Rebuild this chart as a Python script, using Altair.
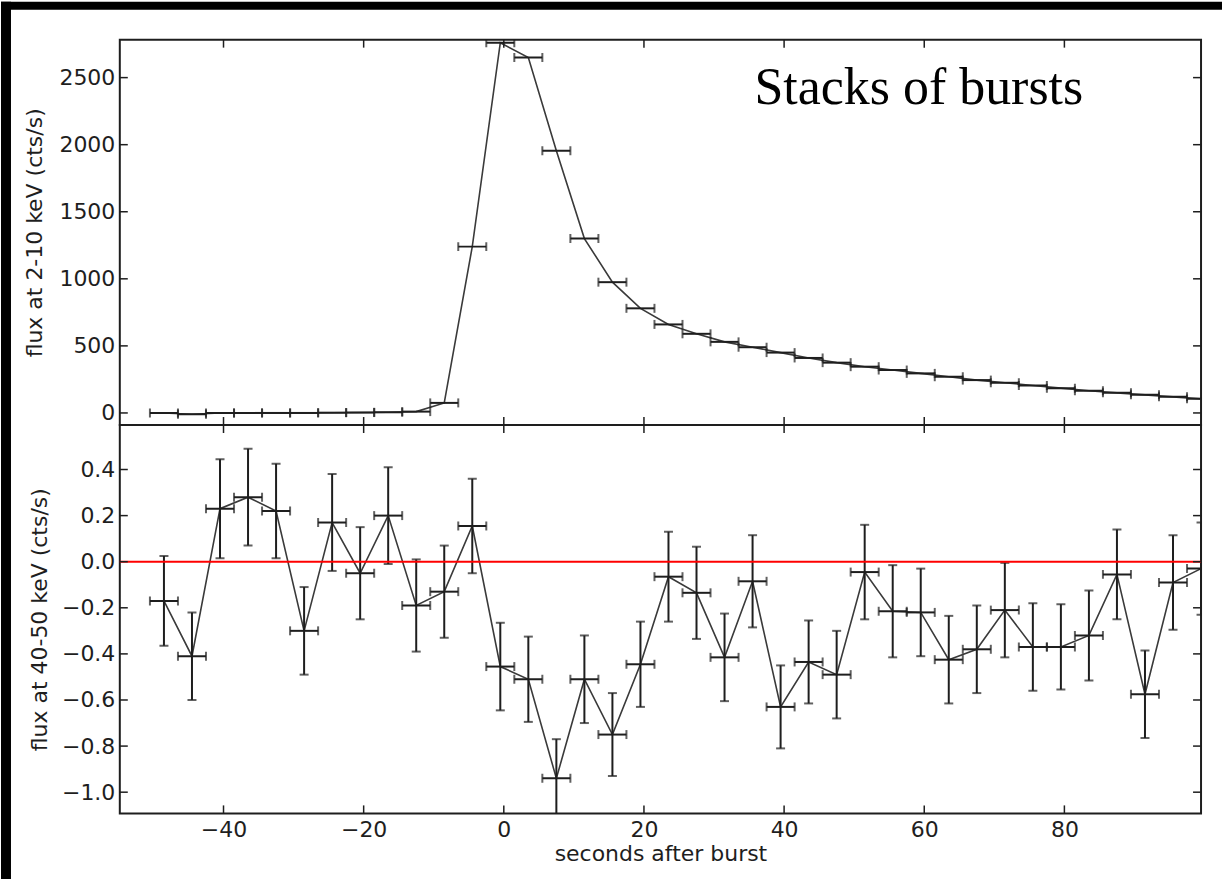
import altair as alt
import pandas as pd

# ---------------- data ----------------
x_centers = [-48.5, -44.5, -40.5, -36.5, -32.5, -28.5, -24.5, -20.5, -16.5, -12.5,
             -8.5, -4.5, -0.5, 3.5, 7.5, 11.5, 15.5, 19.5, 23.5, 27.5,
             31.5, 35.5, 39.5, 43.5, 47.5, 51.5, 55.5, 59.5, 63.5, 67.5,
             71.5, 75.5, 79.5, 83.5, 87.5, 91.5, 95.5, 99.5]
bin_half = 2.0

upper_flux = [0, -10, 0, 0, 0, 0, 2, 3, 5, 10,
              75, 1240, 2760, 2650, 1955, 1300, 975, 780, 660, 590,
              530, 490, 450, 410, 375, 345, 320, 295, 270, 245,
              225, 205, 185, 165, 150, 135, 120, 105]

lower_flux = [-0.17, -0.41, 0.23, 0.28, 0.22, -0.30, 0.17, -0.05, 0.20, -0.19,
              -0.13, 0.155, -0.455, -0.51, -0.94, -0.51, -0.75, -0.445, -0.065, -0.135,
              -0.415, -0.085, -0.63, -0.435, -0.49, -0.045, -0.215, -0.22, -0.425, -0.38,
              -0.21, -0.37, -0.37, -0.32, -0.055, -0.575, -0.09, -0.03]

lower_err = [0.195, 0.19, 0.215, 0.21, 0.205, 0.19, 0.21, 0.20, 0.21, 0.20,
             0.20, 0.205, 0.19, 0.185, 0.17, 0.19, 0.18, 0.185, 0.195, 0.20,
             0.19, 0.20, 0.18, 0.18, 0.19, 0.205, 0.20, 0.19, 0.19, 0.19,
             0.205, 0.19, 0.185, 0.195, 0.195, 0.19, 0.205, 0.20]

x_ticks = [-40, -20, 0, 20, 40, 60, 80]
upper_yticks = [0, 500, 1000, 1500, 2000, 2500]
lower_yticks = [-1.0, -0.8, -0.6, -0.4, -0.2, 0.0, 0.2, 0.4]
zero_level = [0.0]
annotation = ["Stacks of bursts"]

# ---------------- tables ----------------
df = pd.DataFrame({"t": x_centers, "up": upper_flux, "low": lower_flux, "err": lower_err})
df["tlo"] = df["t"] - bin_half
df["thi"] = df["t"] + bin_half
df["lo"] = df["low"] - df["err"]
df["hi"] = df["low"] + df["err"]

xt = pd.DataFrame({"v": x_ticks})
yt_up = pd.DataFrame({"up": upper_yticks})
yt_lo = pd.DataFrame({"low": lower_yticks})
zl = pd.DataFrame({"low": zero_level})
ann = pd.DataFrame({"label": annotation})
one = pd.DataFrame({"a": [0]})

W, H1, H2 = 1083, 386, 389
TICK = 8
INK = "#1e1e1e"
LINE = "#3a3a3a"

xs = alt.Scale(domain=[-54.8, 99.5], nice=False, zero=False)
ys_up = alt.Scale(domain=[-90, 2783], nice=False, zero=False)
ys_lo = alt.Scale(domain=[-1.092, 0.593], nice=False, zero=False)

ax_up_y = alt.Axis(values=upper_yticks, title="flux at 2-10 keV (cts/s)", format="d",
                   labelPadding=5, titlePadding=12)
ax_lo_y = alt.Axis(values=lower_yticks, title="flux at 40-50 keV (cts/s)", format=".1f",
                   labelPadding=5, titlePadding=10)
ax_lo_x = alt.Axis(values=x_ticks, title="seconds after burst", format="d",
                   labelPadding=6, titlePadding=3)

# ---------------- upper panel ----------------
strip_left = alt.Chart(one).mark_rect(color="black").encode(
    x=alt.value(-119), x2=alt.value(-109), y=alt.value(-38), y2=alt.value(841))
strip_top = alt.Chart(one).mark_rect(color="black").encode(
    x=alt.value(-119), x2=alt.value(1104), y=alt.value(-38), y2=alt.value(-30))

up_line = alt.Chart(df).mark_line(color=LINE, strokeWidth=1.6, clip=True).encode(
    x=alt.X("t:Q", scale=xs, axis=None),
    y=alt.Y("up:Q", scale=ys_up, axis=ax_up_y))
up_xerr = alt.Chart(df).mark_rule(color=INK, strokeWidth=2, clip=True).encode(
    x=alt.X("tlo:Q", scale=xs, axis=None), x2="thi:Q",
    y=alt.Y("up:Q", scale=ys_up, axis=ax_up_y))
up_cap_l = alt.Chart(df).mark_tick(color=INK, orient="vertical", size=9, thickness=2, clip=True).encode(
    x=alt.X("tlo:Q", scale=xs, axis=None), y=alt.Y("up:Q", scale=ys_up, axis=ax_up_y))
up_cap_r = alt.Chart(df).mark_tick(color=INK, orient="vertical", size=9, thickness=2, clip=True).encode(
    x=alt.X("thi:Q", scale=xs, axis=None), y=alt.Y("up:Q", scale=ys_up, axis=ax_up_y))

up_xt_top = alt.Chart(xt).mark_rule(color=INK, strokeWidth=1.5).encode(
    x=alt.X("v:Q", scale=xs, axis=None), y=alt.value(0), y2=alt.value(TICK))
up_xt_bot = alt.Chart(xt).mark_rule(color=INK, strokeWidth=1.5).encode(
    x=alt.X("v:Q", scale=xs, axis=None), y=alt.value(H1 - TICK), y2=alt.value(H1))
up_yt_l = alt.Chart(yt_up).mark_rule(color=INK, strokeWidth=1.5).encode(
    y=alt.Y("up:Q", scale=ys_up, axis=ax_up_y), x=alt.value(0), x2=alt.value(TICK))
up_yt_r = alt.Chart(yt_up).mark_rule(color=INK, strokeWidth=1.5).encode(
    y=alt.Y("up:Q", scale=ys_up, axis=ax_up_y), x=alt.value(W - TICK), x2=alt.value(W))

up_text = alt.Chart(ann).mark_text(font="Liberation Serif", fontSize=52, color="black",
                                   align="right", baseline="alphabetic").encode(
    text="label:N", x=alt.value(965), y=alt.value(64))

upper = alt.layer(strip_left, strip_top, up_line, up_xerr, up_cap_l, up_cap_r,
                  up_xt_top, up_xt_bot, up_yt_l, up_yt_r, up_text).properties(width=W, height=H1)

# ---------------- lower panel ----------------
lo_line = alt.Chart(df).mark_line(color=LINE, strokeWidth=1.6, clip=True).encode(
    x=alt.X("t:Q", scale=xs, axis=ax_lo_x),
    y=alt.Y("low:Q", scale=ys_lo, axis=ax_lo_y))
lo_xerr = alt.Chart(df).mark_rule(color=INK, strokeWidth=2, clip=True).encode(
    x=alt.X("tlo:Q", scale=xs, axis=ax_lo_x), x2="thi:Q",
    y=alt.Y("low:Q", scale=ys_lo, axis=ax_lo_y))
lo_yerr = alt.Chart(df).mark_rule(color=INK, strokeWidth=2, clip=True).encode(
    x=alt.X("t:Q", scale=xs, axis=ax_lo_x),
    y=alt.Y("lo:Q", scale=ys_lo, axis=ax_lo_y), y2="hi:Q")
lo_cap_l = alt.Chart(df).mark_tick(color=INK, orient="vertical", size=9, thickness=2, clip=True).encode(
    x=alt.X("tlo:Q", scale=xs, axis=ax_lo_x), y=alt.Y("low:Q", scale=ys_lo, axis=ax_lo_y))
lo_cap_r = alt.Chart(df).mark_tick(color=INK, orient="vertical", size=9, thickness=2, clip=True).encode(
    x=alt.X("thi:Q", scale=xs, axis=ax_lo_x), y=alt.Y("low:Q", scale=ys_lo, axis=ax_lo_y))
lo_cap_b = alt.Chart(df).mark_tick(color=INK, orient="horizontal", size=9, thickness=2, clip=True).encode(
    x=alt.X("t:Q", scale=xs, axis=ax_lo_x), y=alt.Y("lo:Q", scale=ys_lo, axis=ax_lo_y))
lo_cap_t = alt.Chart(df).mark_tick(color=INK, orient="horizontal", size=9, thickness=2, clip=True).encode(
    x=alt.X("t:Q", scale=xs, axis=ax_lo_x), y=alt.Y("hi:Q", scale=ys_lo, axis=ax_lo_y))
lo_zero = alt.Chart(zl).mark_rule(color="#ff0000", strokeWidth=2).encode(
    y=alt.Y("low:Q", scale=ys_lo, axis=ax_lo_y), x=alt.value(0), x2=alt.value(W))

lo_xt_top = alt.Chart(xt).mark_rule(color=INK, strokeWidth=1.5).encode(
    x=alt.X("v:Q", scale=xs, axis=ax_lo_x), y=alt.value(0), y2=alt.value(TICK))
lo_xt_bot = alt.Chart(xt).mark_rule(color=INK, strokeWidth=1.5).encode(
    x=alt.X("v:Q", scale=xs, axis=ax_lo_x), y=alt.value(H2 - TICK), y2=alt.value(H2))
lo_yt_l = alt.Chart(yt_lo).mark_rule(color=INK, strokeWidth=1.5).encode(
    y=alt.Y("low:Q", scale=ys_lo, axis=ax_lo_y), x=alt.value(0), x2=alt.value(TICK))
lo_yt_r = alt.Chart(yt_lo).mark_rule(color=INK, strokeWidth=1.5).encode(
    y=alt.Y("low:Q", scale=ys_lo, axis=ax_lo_y), x=alt.value(W - TICK), x2=alt.value(W))

lower = alt.layer(lo_line, lo_yerr, lo_xerr, lo_cap_l, lo_cap_r, lo_cap_b, lo_cap_t, lo_zero,
                  lo_xt_top, lo_xt_bot, lo_yt_l, lo_yt_r).properties(width=W, height=H2)

chart = alt.vconcat(upper, lower, spacing=0, bounds="flush").properties(
    padding={"left": 0, "top": 0, "right": 0, "bottom": 0}
).configure(background="white").configure_view(
    stroke=INK, strokeWidth=2
).configure_axis(
    domain=False, ticks=False, grid=False,
    labelFont="DejaVu Sans", labelFontSize=22, labelColor=INK,
    titleFont="DejaVu Sans", titleFontSize=22, titleFontWeight="normal", titleColor=INK
)

chart.save("out.html", embed_options={"renderer": "svg", "actions": False})
